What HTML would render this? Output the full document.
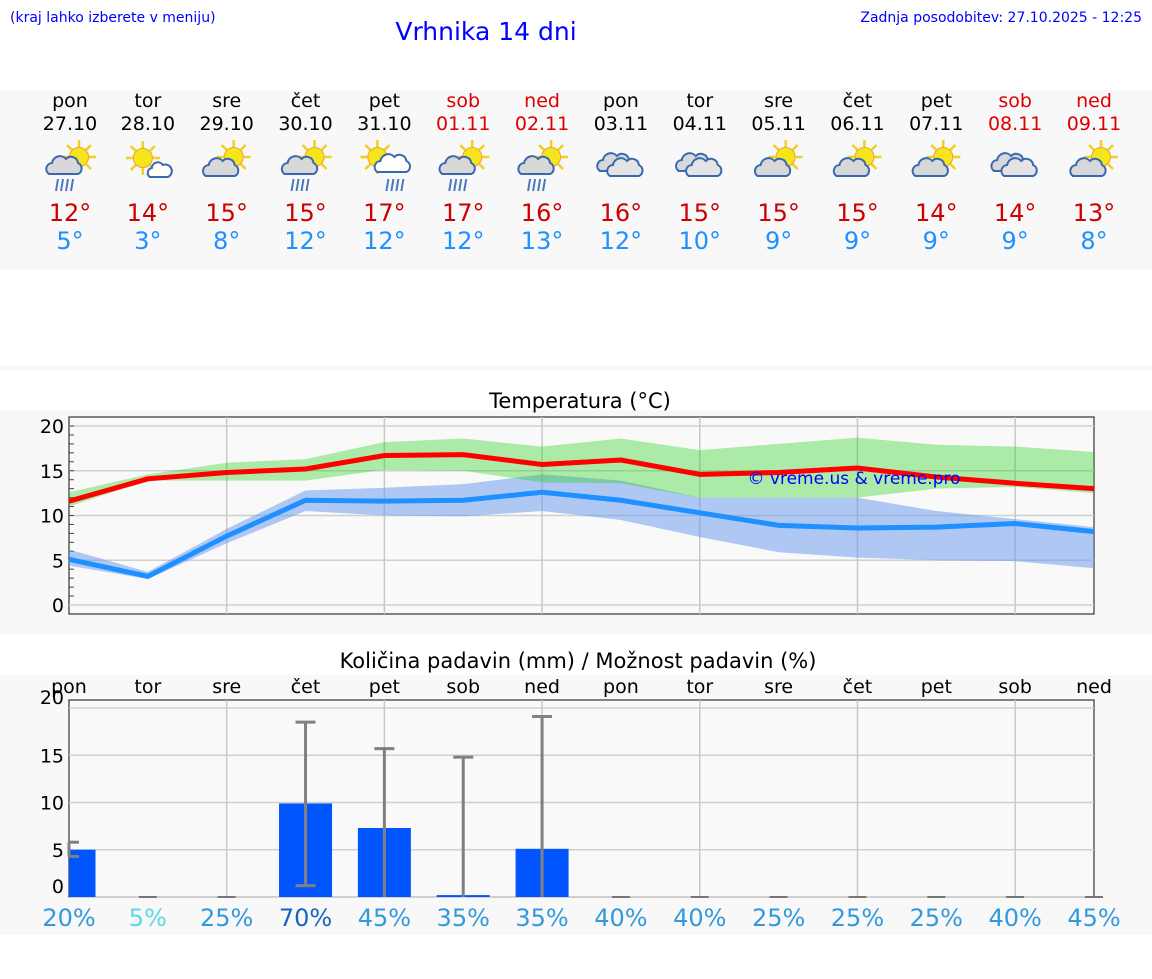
<!DOCTYPE html>
<html><head><meta charset="utf-8"><style>
body{margin:0;background:#fff;width:1152px;height:975px;overflow:hidden;font-family:"DejaVu Sans","Liberation Sans",sans-serif}
svg text{font-family:"DejaVu Sans","Liberation Sans",sans-serif}
</style></head><body>
<svg id="s" width="1152" height="975" xmlns="http://www.w3.org/2000/svg">
<text x="10" y="22" font-size="14" fill="#0000ff" font-family="Liberation Sans">(kraj lahko izberete v meniju)</text>
<text x="486" y="40" font-size="25" fill="#0000ff" text-anchor="middle" font-family="Liberation Sans">Vrhnika 14 dni</text>
<text x="1142" y="22" font-size="14" fill="#0000ff" text-anchor="end" font-family="Liberation Sans">Zadnja posodobitev: 27.10.2025 - 12:25</text>
<rect x="0" y="90" width="1152" height="180" fill="#f8f8f8"/>
<rect x="0" y="365" width="1152" height="5" fill="#f8f8f8"/>
<rect x="0" y="410" width="1152" height="225" fill="#f8f8f8"/>
<rect x="0" y="675" width="1152" height="260" fill="#f8f8f8"/>
<text x="580" y="408" font-size="21" text-anchor="middle">Temperatura (°C)</text>
<text x="578" y="668" font-size="21" text-anchor="middle">Količina padavin (mm) / Možnost padavin (%)</text>
<g id="g"></g>
</svg>
<script>
const days=["pon","tor","sre","čet","pet","sob","ned","pon","tor","sre","čet","pet","sob","ned"];
const dates=["27.10","28.10","29.10","30.10","31.10","01.11","02.11","03.11","04.11","05.11","06.11","07.11","08.11","09.11"];
const weekend=[0,0,0,0,0,1,1,0,0,0,0,0,1,1];
const icons=["sr","sw","sg","sr","sr2","sr","sr","c","c","sg","sg","sg","c","sg"];
const hiT=[12,14,15,15,17,17,16,16,15,15,15,14,14,13];
const loT=[5,3,8,12,12,12,13,12,10,9,9,9,9,8];
const maxLine=[11.6,14.1,14.8,15.2,16.7,16.8,15.7,16.2,14.6,14.8,15.3,14.3,13.6,13.0];
const maxLow=[11.0,13.9,13.9,13.9,15.1,15.0,13.7,13.6,12.0,12.0,12.0,13.0,13.2,12.5];
const maxHigh=[12.6,14.6,15.9,16.3,18.2,18.6,17.7,18.6,17.3,18.0,18.7,17.9,17.7,17.1];
const minLine=[5.1,3.2,7.7,11.7,11.6,11.7,12.6,11.7,10.3,8.9,8.6,8.7,9.1,8.2];
const minLow=[4.4,2.9,6.9,10.5,10.0,9.9,10.5,9.5,7.6,5.9,5.3,5.0,4.9,4.1];
const minHigh=[6.2,3.7,8.5,12.8,13.1,13.5,14.6,13.9,12.0,12.0,12.0,10.5,9.6,8.7];
const precip=[5.0,0,0,9.9,7.3,0.2,5.1,0,0,0,0,0,0,0];
const errLow=[4.3,0,0,1.2,0,0,0,0,0,0,0,0,0,0];
const errHigh=[5.8,0,0,18.5,15.7,14.8,19.1,0,0,0,0,0,0,0];
const chance=[20,5,25,70,45,35,35,40,40,25,25,25,40,45];
const tTicks=[0,5,10,15,20];
const pTicks=[0,5,10,15,20];

const NS="http://www.w3.org/2000/svg",g=document.getElementById('g');
function el(t,a,p){const e=document.createElementNS(NS,t);for(const k in a)e.setAttribute(k,a[k]);(p||g).appendChild(e);return e;}
const X0=69,X1=1094;
const xd=i=>X0+i*(X1-X0)/13;
const yT=v=>605-v*8.95;
const yP=v=>897-v*9.45;

function sun(ic,sx,sy){
 for(let a=0;a<8;a++){const r=a*Math.PI/4;el('line',{x1:sx+Math.cos(r)*10,y1:sy+Math.sin(r)*10,x2:sx+Math.cos(r)*17,y2:sy+Math.sin(r)*17,stroke:'#f0d020','stroke-width':2.5},ic);}
 el('circle',{cx:sx,cy:sy,r:9.5,fill:'#f5e61c',stroke:'#f0a030','stroke-width':1},ic);}
function cloud(ic,dx,dy,f){
 el('path',{d:`M${dx-15},${dy+7} a6 6 0 0 1 3,-11 a8 8 0 0 1 14,-4 a7 7 0 0 1 12,4 a6 6 0 0 1 0,11 z`,fill:f,stroke:'#3a68b0','stroke-width':2},ic);}

days.forEach((d,i)=>{
 const x=xd(i)+(i==0?1:0), col=weekend[i]?"#dd0000":"#000";
 let t=el('text',{x:x,y:107,'font-size':19,'text-anchor':'middle',fill:col});t.textContent=d;
 
 t=el('text',{x:x,y:130,'font-size':19,'text-anchor':'middle',fill:col});t.textContent=dates[i];
 
 t=el('text',{x:x,y:221,'font-size':24,'text-anchor':'middle',fill:"#cc0000"});t.textContent=hiT[i]+"°";
 
 t=el('text',{x:x,y:249,'font-size':24,'text-anchor':'middle',fill:"#1e90ff"});t.textContent=loT[i]+"°";
 
 const ic=el('g',{transform:`translate(${x},165)`});
 
 const k=icons[i];
 if(k=="sr"){sun(ic,9,-8);cloud(ic,-6,2,'#d8d8d8');}
 if(k=="sr2"){sun(ic,-7,-8);cloud(ic,8,0,'#ffffff');}
 if(k=="sw"){sun(ic,-5,-7);el('path',{d:"M2,12 a5 5 0 0 1 2,-9 a6 6 0 0 1 11,-3 a5 5 0 0 1 5,12 z",fill:'#fff',stroke:'#3a68b0','stroke-width':2},ic);}
 if(k=="sg"){sun(ic,7,-8);cloud(ic,-6,4,'#d8d8d8');}
 if(k=="c"){cloud(ic,-6,-1,'#d8d8d8');cloud(ic,4,4,'#e4e4e4');}
 if(k=="sr"||k=="sr2"){const ox=k=="sr2"?10:-6;for(let r=0;r<4;r++)el('line',{x1:ox-6+r*5,y1:14,x2:ox-8+r*5,y2:26,stroke:'#4a78c0','stroke-width':2},ic);}
});

// temp chart
el('rect',{x:X0,y:417,width:X1-X0,height:197,fill:'#f9f9f9',stroke:'#333','stroke-width':1.2});
tTicks.forEach(v=>{el('line',{x1:X0,x2:X1,y1:yT(v),y2:yT(v),stroke:'#d0d0d0','stroke-width':1.5});
 const t=el('text',{x:64,y:yT(v)+7,'font-size':19,'text-anchor':'end'});t.textContent=v;
 });
for(let v=1;v<=21;v++)el('line',{x1:X0,x2:X0+5,y1:yT(v),y2:yT(v),stroke:'#444'});
for(let i=2;i<13;i+=2)el('line',{x1:xd(i),x2:xd(i),y1:417,y2:614,stroke:'#c8c8c8','stroke-width':1.5});
const band=(lo,hi,f,op,n)=>{let d="M"+lo.map((v,i)=>xd(i)+","+yT(v)).join("L")+"L"+hi.map((v,i)=>xd(i)+","+yT(v)).reverse().join("L")+"Z";
 const p=el('path',{d:d,fill:f,'fill-opacity':op});};
band(minLow,minHigh,'#6495ed',0.5,'min-temp-band');
band(maxLow,maxHigh,'#23cf16',0.36,'max-temp-band');
const line=(a,c,n)=>{const p=el('polyline',{points:a.map((v,i)=>xd(i)+","+yT(v)).join(" "),fill:'none',stroke:c,'stroke-width':5});
 };
line(minLine,'#1e90ff','min-temp-line');
line(maxLine,'#ff0000','max-temp-line');
let w=el('text',{x:854,y:484,'font-size':17,'text-anchor':'middle',fill:'#0000ff','font-family':'Liberation Sans'});w.textContent="© vreme.us & vreme.pro";


// precip chart
el('rect',{x:X0,y:700,width:X1-X0,height:197,fill:'#f9f9f9',stroke:'#333','stroke-width':1.2});
pTicks.forEach(v=>{el('line',{x1:X0,x2:X1,y1:yP(v),y2:yP(v),stroke:'#d0d0d0','stroke-width':1.5});
 const t=el('text',{x:64,y:v==0?893:(v==20?704:yP(v)+7),'font-size':19,'text-anchor':'end'});t.textContent=v;
 });
for(let i=2;i<13;i+=2)el('line',{x1:xd(i),x2:xd(i),y1:700,y2:897,stroke:'#c8c8c8','stroke-width':1.5});
days.forEach((d,i)=>{const t=el('text',{x:xd(i),y:693,'font-size':19,'text-anchor':'middle'});t.textContent=d;
 });
const bw=53;
precip.forEach((v,i)=>{
 const x=Math.max(X0,xd(i)-bw/2),x2=xd(i)+bw/2;
 if(v>0){const r=el('rect',{x:x,y:yP(v),width:x2-x,height:yP(0)-yP(v),fill:'#0055ff'});
  }
 else el('line',{x1:xd(i)-9,x2:xd(i)+9,y1:897,y2:897,stroke:'#777','stroke-width':2});
 if(errHigh[i]>0){const eg=el('g',{stroke:'#808080','stroke-width':3});
  
  el('line',{x1:xd(i),x2:xd(i),y1:yP(errLow[i]),y2:yP(errHigh[i])},eg);
  el('line',{x1:Math.max(X0,xd(i)-10),x2:xd(i)+10,y1:yP(errHigh[i]),y2:yP(errHigh[i])},eg);
  if(errLow[i]>0)el('line',{x1:Math.max(X0,xd(i)-10),x2:xd(i)+10,y1:yP(errLow[i]),y2:yP(errLow[i])},eg);}
});
chance.forEach((c,i)=>{const col=c>=70?'#1565c0':(c<=5?'#5ad8e8':'#3399dd');
 const t=el('text',{x:xd(i),y:926,'font-size':24,'text-anchor':'middle',fill:col});t.textContent=c+"%";
 });
</script>
</body></html>
